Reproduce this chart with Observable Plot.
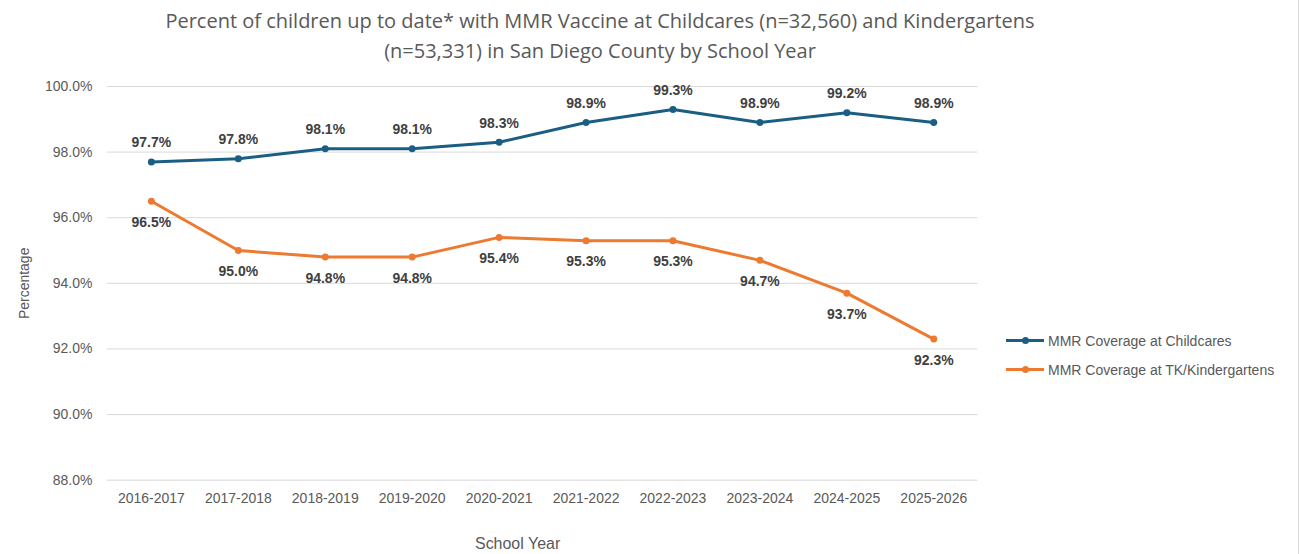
<!DOCTYPE html>
<html>
<head>
<meta charset="utf-8">
<script src="https://cdn.jsdelivr.net/npm/d3@7"></script>
<script src="https://cdn.jsdelivr.net/npm/@observablehq/plot@0.6"></script>
<style>
  body { margin: 0; background: #fff; }
  #wrap { position: relative; width: 1299px; height: 554px; overflow: hidden; border-right: 1px solid #d9d9d9; box-sizing: border-box; }
  #title { position: absolute; left: 0; top: 6px; width: 1200px; text-align: center; font-family: "Open Sans", Lato, sans-serif; font-size: 20px; line-height: 30px; color: #595959; }
  #chart { position: absolute; left: 0; top: 68px; }
  #legend { position: absolute; left: 1006px; top: 326px; font-family: "Liberation Sans", Arial, sans-serif; font-size: 14px; color: #595959; }
  .item { display: flex; align-items: center; height: 29px; }
  .sw { position: relative; width: 38px; height: 3px; margin-right: 4px; }
  .sw::after { content: ""; position: absolute; left: 16px; top: -2px; width: 7px; height: 7px; border-radius: 50%; background: inherit; }
</style>
</head>
<body>
<div id="wrap">
  <div id="title">Percent of children up to date* with MMR Vaccine at Childcares (n=32,560) and Kindergartens<br>(n=53,331) in San Diego County by School Year</div>
  <div id="chart"></div>
  <div id="legend"></div>
</div>
<script>
const years = ["2016-2017","2017-2018","2018-2019","2019-2020","2020-2021","2021-2022","2022-2023","2023-2024","2024-2025","2025-2026"];
const childcare = [97.7, 97.8, 98.1, 98.1, 98.3, 98.9, 99.3, 98.9, 99.2, 98.9];
const kinder = [96.5, 95.0, 94.8, 94.8, 95.4, 95.3, 95.3, 94.7, 93.7, 92.3];
const seriesNames = ["MMR Coverage at Childcares", "MMR Coverage at TK/Kindergartens"];
const colors = ["#1b5e84", "#ec7a30"];
const yTicks = [88, 90, 92, 94, 96, 98, 100];

const data = [];
years.forEach((y, i) => {
  data.push({year: y, value: childcare[i], series: seriesNames[0]});
  data.push({year: y, value: kinder[i], series: seriesNames[1]});
});
const cc = data.filter(d => d.series === seriesNames[0]);
const kg = data.filter(d => d.series === seriesNames[1]);

const chart = Plot.plot({
  width: 1299,
  height: 486,
  marginTop: 18,
  marginBottom: 74,
  marginLeft: 107,
  marginRight: 321,
  style: {fontFamily: "Liberation Sans, Arial, sans-serif", fontSize: "14px", color: "#595959", background: "transparent"},
  x: {type: "point", domain: years, padding: 0.5, label: null},
  y: {domain: [88, 100], label: null},
  color: {domain: seriesNames, range: colors},
  marks: [
    Plot.gridY(yTicks, {stroke: "#d9d9d9", strokeOpacity: 1, strokeWidth: 1}),
    Plot.axisY({ticks: yTicks, tickSize: 0, tickPadding: 15, tickFormat: d => d.toFixed(1) + "%", label: "Percentage", labelAnchor: "center", labelOffset: 88, labelArrow: "none", fill: "#595959", fontSize: 14}),
    Plot.axisX({tickSize: 0, tickPadding: 13, label: null, fill: "#595959", fontSize: 14}),
    Plot.line(data, {x: "year", y: "value", z: "series", stroke: "series", strokeWidth: 3}),
    Plot.dot(data, {x: "year", y: "value", fill: "series", r: 3.5}),
    Plot.text(cc, {x: "year", y: "value", text: d => d.value.toFixed(1) + "%", dy: -19, fill: "#404040", fontWeight: "bold", fontSize: 14}),
    Plot.text(kg, {x: "year", y: "value", text: d => d.value.toFixed(1) + "%", dy: 21, fill: "#404040", fontWeight: "bold", fontSize: 14}),
    Plot.text(["School Year"], {frameAnchor: "bottom", dy: 69, dx: -25, fill: "#595959", fontSize: 16})
  ]
});
document.getElementById("chart").appendChild(chart);

const legend = document.getElementById("legend");
seriesNames.forEach((n, i) => {
  const it = document.createElement("div");
  it.className = "item";
  const sw = document.createElement("span");
  sw.className = "sw";
  sw.style.background = colors[i];
  it.appendChild(sw);
  const t = document.createElement("span");
  t.textContent = n;
  it.appendChild(t);
  legend.appendChild(it);
});
</script>
</body>
</html>
